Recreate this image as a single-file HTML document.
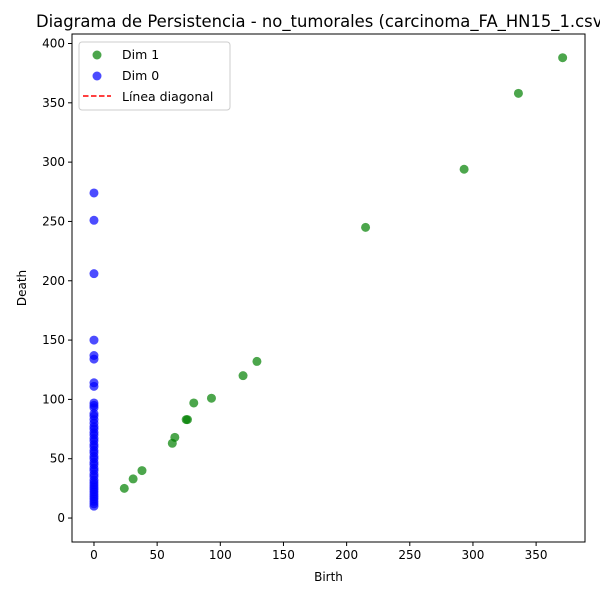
<!DOCTYPE html>
<html><head><meta charset="utf-8"><style>
body{margin:0;background:#fff}
svg{font-family:"DejaVu Sans","Liberation Sans",sans-serif;display:block}
</style></head><body>
<svg id="chart" width="600" height="600"></svg>
<script>
const dim1Birth=[24,31,38,62,64,73,74,79,93,118,129,215,293,336,371];
const dim1Death=[25,33,40,63,68,83,83,97,101,120,132,245,294,358,388];
const dim0Death=[274,251,206,150,137,134,114,111,97,95,93,88,86,83,80,77,75,72,70,67,65,62,60,57,55,52,50,47,45,42,40,37,35,32,30,28,26,24,22,20,18,16,14,12,10];
const xTicks=[0,50,100,150,200,250,300,350];
const yTicks=[0,50,100,150,200,250,300,350,400];
const L=72,R=585,T=34,B=542,xmin=-17.4,xmax=388.7,ymin=-20.2,ymax=408;
const sx=v=>L+(v-xmin)/(xmax-xmin)*(R-L);
const sy=v=>B-(v-ymin)/(ymax-ymin)*(B-T);
const svg=document.getElementById('chart');const NS='http://www.w3.org/2000/svg';
function mk(t,a,p){const e=document.createElementNS(NS,t);for(const k in a)e.setAttribute(k,a[k]);(p||svg).appendChild(e);return e;}
let t=mk('text',{x:36,y:27,'font-size':16.4,fill:'#000'});t.textContent='Diagrama de Persistencia - no_tumorales (carcinoma_FA_HN15_1.csv)';


xTicks.forEach(v=>{const x=sx(v);mk('line',{x1:x,x2:x,y1:B,y2:B+4,stroke:'#000'});
 const l=mk('text',{x:x,y:B+17,'font-size':12,'text-anchor':'middle'});l.textContent=v;
 
 });
yTicks.forEach(v=>{const y=sy(v);mk('line',{x1:L-4,x2:L,y1:y,y2:y,stroke:'#000'});
 const l=mk('text',{x:L-7,y:y+4,'font-size':12,'text-anchor':'end'});l.textContent=v;
 
 });
t=mk('text',{x:(L+R)/2,y:581,'font-size':12,'text-anchor':'middle'});t.textContent='Birth';


t=mk('text',{x:26,y:(T+B)/2,'font-size':12,'text-anchor':'middle',transform:`rotate(-90 26 ${(T+B)/2})`});t.textContent='Death';


dim1Birth.forEach((b,i)=>{const c=mk('circle',{cx:sx(b),cy:sy(dim1Death[i]),r:4.5,fill:'green','fill-opacity':0.7});
 
 });
dim0Death.forEach(d=>{const c=mk('circle',{cx:sx(0),cy:sy(d),r:4.5,fill:'blue','fill-opacity':0.7});
 
 });
const fr=mk('rect',{x:L,y:T,width:R-L,height:B-T,fill:'none',stroke:'#000','stroke-width':1});


const g=mk('g',{});


mk('rect',{x:79,y:42,width:151,height:68,rx:3,fill:'#fff',stroke:'#ccc'},g);
mk('circle',{cx:97,cy:55,r:4.5,fill:'green','fill-opacity':0.7},g);
mk('circle',{cx:97,cy:76,r:4.5,fill:'blue','fill-opacity':0.7},g);
mk('line',{x1:83,x2:111,y1:96,y2:96,stroke:'red','stroke-width':1.5,'stroke-dasharray':'5.5,2.5'},g);
[['Dim 1',59],['Dim 0',80],['Línea diagonal',101]].forEach(([s,y])=>{const l=mk('text',{x:122,y:y,'font-size':12.5},g);l.textContent=s;});
</script>
</body></html>
